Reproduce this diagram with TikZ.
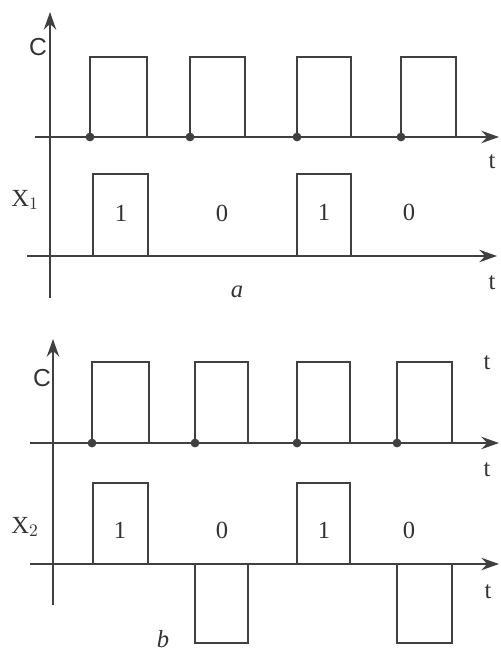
\documentclass[tikz,border=0pt]{standalone}
\usepackage{fontspec}
\setmainfont{Liberation Serif}
\setsansfont{Liberation Sans}
\usetikzlibrary{arrows.meta}

\begin{document}
\begin{tikzpicture}[x=0.02cm, y=-0.02cm,
    axis/.style={-{Stealth[length=10pt, width=7pt]}, line width=1.3pt, black!75},
    pulse/.style={line width=1pt, black!75},
    lbl/.style={font=\fontsize{14}{16}\selectfont, text=black!80, inner sep=0pt},
]
    \useasboundingbox (0,0) rectangle (500,655);

    % === a ===
    \coordinate (aVlo) at (50,298);  \coordinate (aVhi) at (50,12);
    \coordinate (aClo) at (35,137);  \coordinate (aChi) at (499,137);
    \coordinate (aXlo) at (27,256);  \coordinate (aXhi) at (497,256);
    \draw[axis] (aVlo) -- (aVhi);
    \draw[axis] (aClo) -- (aChi);
    \draw[axis] (aXlo) -- (aXhi);
    \foreach \a/\b in {90/147, 190/245, 297/351, 401/456} {
        \draw[pulse] (\a,137) |- (\b,57) -- (\b,137);
        \fill[black!75] (\a,137) circle (2.5pt);
    }
    \foreach \a/\b in {93/148, 297/351}
        \draw[pulse] (\a,256) |- (\b,174) -- (\b,256);
    \node[lbl, font=\sffamily\fontsize{14}{16}\selectfont] (aC) at (38,47) {C};
    \node[lbl] (aCt) at (492,162) {t};
    \node[lbl] (aX) at (25,200) {X$_1$};
    \node[lbl] (aXt) at (492,283) {t};
    \node[lbl] (aB1) at (121,213) {1};
    \node[lbl] (aB2) at (222,213) {0};
    \node[lbl] (aB3) at (324,212) {1};
    \node[lbl] (aB4) at (409,212) {0};
    \node[lbl, font=\itshape\fontsize{14}{16}\selectfont] (aName) at (237,292) {a};

    % === b ===
    \coordinate (bVlo) at (53,605);  \coordinate (bVhi) at (53,339);
    \coordinate (bClo) at (30,443);  \coordinate (bChi) at (499,443);
    \coordinate (bXlo) at (30,564);  \coordinate (bXhi) at (499,564);
    \draw[axis] (bVlo) -- (bVhi);
    \draw[axis] (bClo) -- (bChi);
    \draw[axis] (bXlo) -- (bXhi);
    \foreach \a/\b in {92/149, 195/248, 297/350, 397/452} {
        \draw[pulse] (\a,443) |- (\b,362) -- (\b,443);
        \fill[black!75] (\a,443) circle (2.5pt);
    }
    \foreach \a/\b in {93/148, 297/350}
        \draw[pulse] (\a,564) |- (\b,483) -- (\b,564);
    \foreach \a/\b in {195/248, 397/452}
        \draw[pulse] (\a,564) |- (\b,643) -- (\b,564);
    \node[lbl, font=\sffamily\fontsize{14}{16}\selectfont] (bC) at (42,378) {C};
    \node[lbl] (bCt0) at (487,363) {t};
    \node[lbl] (bCt) at (487,470) {t};
    \node[lbl] (bX) at (25,527) {X$_2$};
    \node[lbl] (bXt) at (488,592) {t};
    \node[lbl] (bB1) at (120,530) {1};
    \node[lbl] (bB2) at (222,530) {0};
    \node[lbl] (bB3) at (324,530) {1};
    \node[lbl] (bB4) at (409,530) {0};
    \node[lbl, font=\itshape\fontsize{14}{16}\selectfont] (bName) at (163,639) {b};
\end{tikzpicture}
\end{document}
